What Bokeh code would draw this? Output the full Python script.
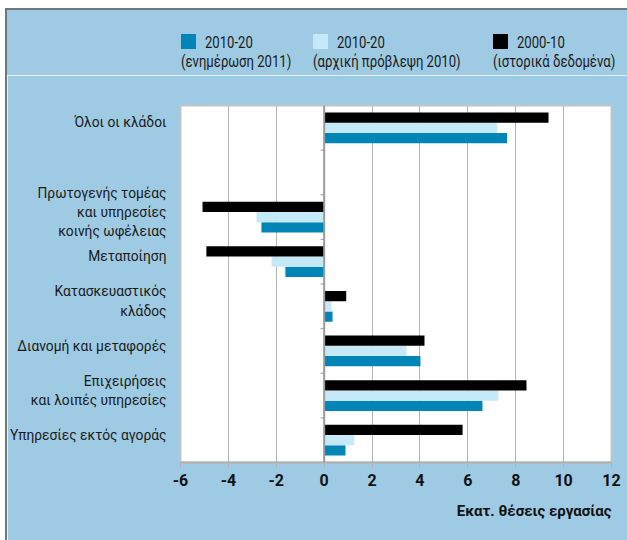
from bokeh.plotting import figure
from bokeh.layouts import column
from bokeh.models import Range1d, FixedTicker, Span, Title, ColumnDataSource, Div
from bokeh.embed import file_html
from bokeh.resources import INLINE

FONT = "Roboto"

categories = [
    "Όλοι οι κλάδοι",
    "",
    "Πρωτογενής τομέας\nκαι υπηρεσίες\nκοινής ωφέλειας",
    "Μεταποίηση",
    "Κατασκευαστικός\nκλάδος",
    "Διανομή και μεταφορές",
    "Επιχειρήσεις\nκαι λοιπές υπηρεσίες",
    "Υπηρεσίες εκτός αγοράς",
]
series_line1 = ["2010-20", "2010-20", "2000-10"]
series_line2 = ["(ενημέρωση 2011)", "(αρχική πρόβλεψη 2010)", "(ιστορικά δεδομένα)"]
nan = float("nan")
update_2011 = [7.64, nan, -2.62, -1.62, 0.35, 4.02, 6.61, 0.89]
forecast_2010 = [7.22, nan, -2.83, -2.20, 0.30, 3.44, 7.28, 1.26]
history_2000_10 = [9.37, nan, -5.08, -4.92, 0.92, 4.19, 8.45, 5.78]
x_ticks = [-6, -4, -2, 0, 2, 4, 6, 8, 10, 12]
x_tick_labels = ["-6", "-4", "-2", "0", "2", "4", "6", "8", "10", "12"]
x_title = "Εκατ. θέσεις εργασίας"

colors = ["#0085b6", "#c6e9f8", "#000000"]
BG = "#9ecbe3"
TXT = "#1a1a1a"
W = 620

# ---------- legend strip (HTML) ----------
LH = 65
leg_x = [174, 306, 486]
TS = "position:absolute;white-space:nowrap;transform:scaleX(0.82);transform-origin:0 50%"
parts = []
for l1, l2, col, lx in zip(series_line1, series_line2, colors, leg_x):
    parts.append(f'<div style="position:absolute;left:{lx}px;top:24px;width:15px;height:15px;background:{col}"></div>')
    parts.append(f'<div style="{TS};left:{lx + 24}px;top:23px">{l1}</div>')
    parts.append(f'<div style="{TS};left:{lx}px;top:42px">{l2}</div>')
html = (f'<div style="position:relative;width:{W}px;height:{LH}px;background:{BG};'
        f'font-family:Roboto,sans-serif;font-size:16px;line-height:19px;color:{TXT}">'
        + "".join(parts) + "</div>")
leg = Div(text=html, width=W, height=LH, margin=0, styles={"background-color": BG})

# ---------- main chart ----------
n = len(categories)
pos = list(range(n))
label_lift = 0.12
H = 465
p = figure(width=W, height=H, output_backend="svg", toolbar_location=None,
           x_range=Range1d(-6, 12), y_range=Range1d(n - 0.5, -0.5),
           min_border_left=173, min_border_right=16, min_border_top=30, min_border_bottom=78)
p.border_fill_color = BG
p.background_fill_color = "white"
p.outline_line_color = "#c4c4c4"
p.outline_line_width = 2

bh = 0.23
series = [(update_2011, 0.23), (forecast_2010, 0.0), (history_2000_10, -0.23)]
for (vals, off), col in zip(series, colors):
    src = ColumnDataSource(dict(y=[i + off for i in pos], right=vals, left=[0] * n))
    p.hbar(y="y", left="left", right="right", height=bh, source=src,
           fill_color=col, line_color=None)

p.add_layout(Span(location=0, dimension="height", line_color="#9a9a9a", line_width=2))
bounds = [i + 0.5 for i in pos[:-1]]
p.segment(x0=[-0.15] * len(bounds), x1=[0] * len(bounds), y0=bounds, y1=bounds,
          line_color="#9a9a9a", line_width=1)

p.xaxis.ticker = FixedTicker(ticks=x_ticks)
p.xaxis.major_label_overrides = {t: s for t, s in zip(x_ticks, x_tick_labels)}
p.xaxis.axis_line_color = "#b0b0b0"
p.xaxis.axis_line_width = 2
p.xaxis.major_tick_line_color = "#b0b0b0"
p.xaxis.major_tick_out = 5
p.xaxis.major_tick_in = 0
p.xaxis.minor_tick_line_color = None
p.xaxis.major_label_text_font = FONT
p.xaxis.major_label_text_font_style = "bold"
p.xaxis.major_label_text_font_size = "16px"
p.xaxis.major_label_text_color = "#111111"
p.xaxis.major_label_standoff = 6

p.xgrid.ticker = FixedTicker(ticks=x_ticks)
p.xgrid.grid_line_color = "#b4b4b4"
p.ygrid.grid_line_color = None

ytick_pos = [i - label_lift for i in pos]
p.yaxis.ticker = FixedTicker(ticks=ytick_pos)
p.yaxis.major_label_overrides = {t: c for t, c in zip(ytick_pos, categories)}
p.yaxis.axis_line_color = None
p.yaxis.major_tick_line_color = None
p.yaxis.minor_tick_line_color = None
p.yaxis.major_label_text_font = FONT
p.yaxis.major_label_text_font_size = "13.8px"
p.yaxis.major_label_text_color = TXT
p.yaxis.major_label_standoff = 8

p.add_layout(Title(text=x_title, align="right", text_font=FONT, text_font_size="15px",
                   text_font_style="bold", text_color="#111111", standoff=23), "below")

layout = column(leg, p, spacing=0,
                styles={"margin-left": "5px", "margin-top": "8px",
                        "border-left": "2px solid #6f777b",
                        "border-top": "2px solid #6f777b"})

open("out.html", "w").write(file_html(layout, INLINE))
